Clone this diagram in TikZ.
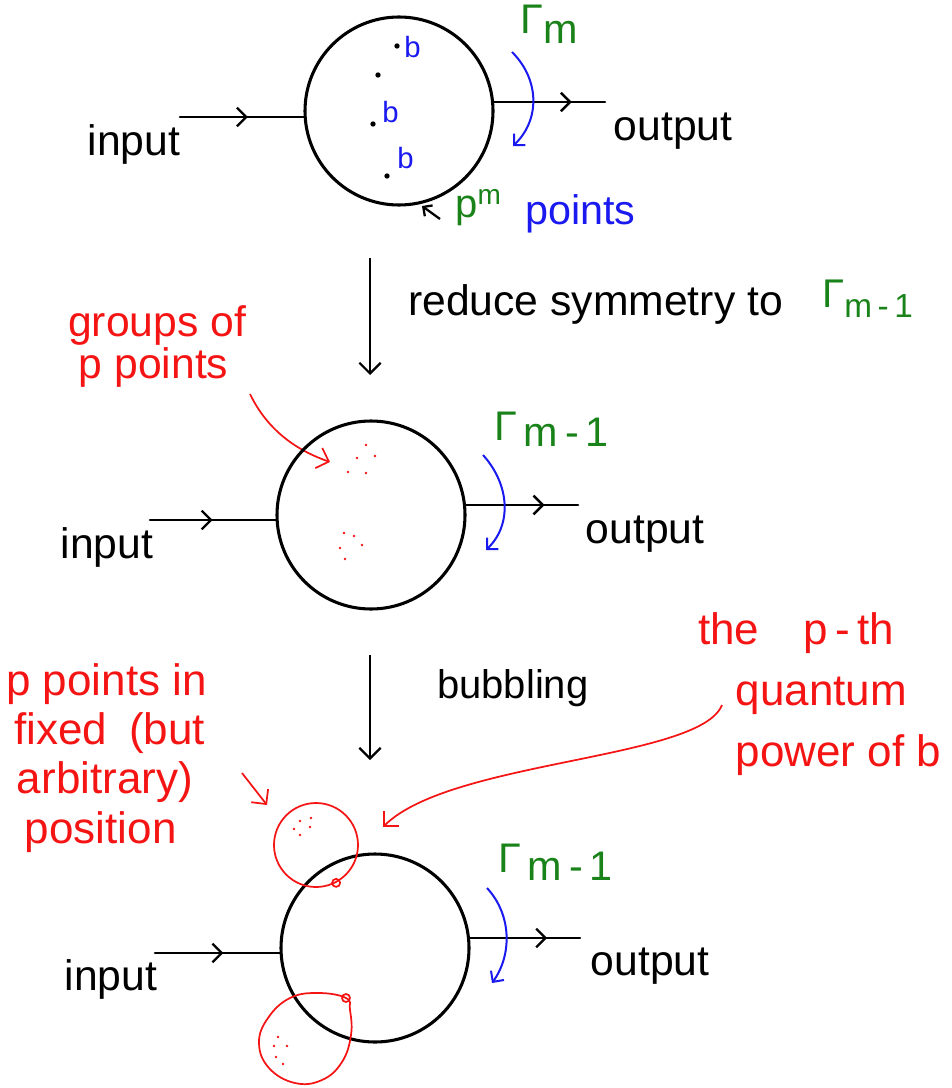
\documentclass[tikz,border=0pt]{standalone}
\usepackage{fontspec}
\setmainfont{Liberation Sans}
\usetikzlibrary{decorations.markings,arrows.meta}
\definecolor{hgreen}{RGB}{25,130,25}
\definecolor{hblue}{RGB}{25,25,240}
\definecolor{hred}{RGB}{245,20,20}
\tikzset{
  bigdisc/.style={circle,draw=black,line width=2.3pt,minimum size=141pt,inner sep=0pt},
  bubble/.style={circle,draw=hred,line width=1.3pt,inner sep=0pt},
  bubbleline/.style={draw=hred,line width=1.3pt},
  joint/.style={circle,draw=hred,line width=1.3pt,minimum size=6pt,inner sep=0pt},
  bdot/.style={circle,fill=black,minimum size=4pt,inner sep=0pt},
  rdot/.style={circle,fill=hred,minimum size=2pt,inner sep=0pt},
  barb/.tip={Straight Barb[length=7pt,width=14pt,line width=1.8pt]},
  flowline/.style={line width=1.9pt,line cap=round,postaction={decorate},
    decoration={markings,mark=at position #1 with {\arrow{barb}}}},
  rotarrow/.style={draw=hblue,line width=1.5pt,-{Straight Barb[length=6pt,width=12pt,line width=1.5pt]}},
  downarrow/.style={line width=1.7pt,-{Straight Barb[length=8pt,width=16pt,line width=1.7pt]}},
  redarrow/.style={draw=hred,line width=1.3pt,-{Straight Barb[length=8pt,width=16pt,line width=1.3pt]}},
  io/.style={font=\fontsize{32}{36}\selectfont,anchor=base,inner sep=0pt},
  gam/.style={text=hgreen,font=\fontsize{31}{34}\selectfont,anchor=base west,inner sep=0pt},
  bl/.style={text=hblue,font=\fontsize{22}{24}\selectfont,inner sep=0pt},
  redtxt/.style={text=hred,align=left,inner sep=0pt},
}
\begin{document}
\begin{tikzpicture}[x=0.75pt,y=-0.75pt]
\useasboundingbox (0,0) rectangle (951,1088);

% ---------- diagram 1 ----------
\node[bigdisc] (c1) at (399,111) {};
\coordinate (in1) at (180,117);
\coordinate (out1) at (605,102);
\draw[flowline=0.55] (in1) -- (c1.west |- in1);
\draw[flowline=0.7] (c1.east |- out1) -- (out1);
\node[io] (inlab1) at (134,155) {input};
\node[io] (outlab1) at (673,140) {output};
\node[bdot] (d1) at (397,46) {};
\node[bdot] (d2) at (378,75) {};
\node[bdot] (d3) at (373,124) {};
\node[bdot] (d4) at (387,176) {};
\node[bl,anchor=west] (b1) at (404,47) {b};
\node[bl,anchor=west] (b2) at (382,112) {b};
\node[bl,anchor=west] (b3) at (397,158) {b};
\coordinate (r1a) at (512,52);
\coordinate (r1b) at (513,146);
\draw[rotarrow] (r1a) .. controls (540,80) and (540,120) .. (r1b);
\node[gam] (g1) at (520,34) {Γ\raisebox{-7pt}{m}};
\coordinate (pa) at (440,219);
\coordinate (pb) at (422,206);
\draw[line width=1.7pt,-{Straight Barb[length=5pt,width=10pt,line width=1.7pt]}] (pa) -- (pb);
\node[text=hgreen,font=\fontsize{30}{34}\selectfont,anchor=base west,inner sep=0pt] (pm) at (455,217) {p\textsuperscript{m}};
\node[text=hblue,font=\fontsize{31}{34}\selectfont,anchor=base west,inner sep=0pt] (pts) at (525,224) {points};

% ---------- reduce ----------
\coordinate (a1) at (370,258);
\coordinate (a2) at (370,375);
\draw[downarrow] (a1) -- (a2);
\node[font=\fontsize{32}{36}\selectfont,anchor=base west,inner sep=0pt] (red) at (408,315) {reduce symmetry to};
\node[gam,font=\fontsize{30}{34}\selectfont] (gred) at (822,307) {Γ\raisebox{-8pt}{\fontsize{25}{28}\selectfont m\,-\,1}};

\node[redtxt,font=\fontsize{32}{32}\selectfont,anchor=north west] (grp) at (68,305) {groups of\\\hspace*{8pt}p points};
\coordinate (ga) at (250,394);
\coordinate (gb) at (330,462);
\draw[redarrow] (ga) .. controls (265,425) and (290,448) .. (gb);

% ---------- diagram 2 ----------
\node[bigdisc] (c2) at (371,515) {};
\coordinate (in2) at (150,520);
\coordinate (out2) at (578,505);
\draw[flowline=0.5] (in2) -- (c2.west |- in2);
\draw[flowline=0.7] (c2.east |- out2) -- (out2);
\node[io] (inlab2) at (107,558) {input};
\node[io] (outlab2) at (645,543) {output};
\coordinate (r2a) at (483,455);
\coordinate (r2b) at (486,550);
\draw[rotarrow] (r2a) .. controls (510,485) and (512,525) .. (r2b);
\node[gam] (g2) at (494,440) {Γ\raisebox{-5pt}{\,m\,-\,1}};
\foreach \p in {(366,445),(357,458),(375,456),(348,472),(366,473)}
  \node[rdot] at \p {};
\foreach \p in {(344,533),(354,536),(340,548),(362,545),(345,559)}
  \node[rdot] at \p {};

% ---------- bubbling ----------
\coordinate (a3) at (370,655);
\coordinate (a4) at (370,760);
\draw[downarrow] (a3) -- (a4);
\node[font=\fontsize{30}{34}\selectfont,anchor=base west,inner sep=0pt] (bub) at (437,698) {bubbling};

\node[redtxt,font=\fontsize{33}{37}\selectfont,anchor=north west] (fix) at (6,663) {p points in\\\hspace*{6pt}fixed\enspace(but\\\hspace*{8pt}arbitrary)\\\hspace*{14pt}position};
\coordinate (fa) at (242,773);
\coordinate (fb) at (267,805);
\draw[redarrow] (fa) -- (fb);

\node[redtxt,font=\fontsize{33}{46}\selectfont,anchor=north west] (qp) at (698,612) {the\quad p\,-\,th\\\hspace*{28pt}quantum\\\hspace*{28pt}power of b};
\coordinate (qa) at (722,705);
\coordinate (qb) at (383,827);
\draw[redarrow] (qa) .. controls (700,760) and (450,760) .. (qb);

% ---------- diagram 3 ----------
\node[bigdisc] (c3) at (375,948) {};
\coordinate (in3) at (155,953);
\coordinate (out3) at (580,938);
\draw[flowline=0.55] (in3) -- (c3.west |- in3);
\draw[flowline=0.7] (c3.east |- out3) -- (out3);
\node[io] (inlab3) at (111,990) {input};
\node[io] (outlab3) at (650,975) {output};
\coordinate (r3a) at (487,888);
\coordinate (r3b) at (492,983);
\draw[rotarrow] (r3a) .. controls (512,915) and (512,955) .. (r3b);
\node[gam] (g3) at (498,872) {Γ\raisebox{-6pt}{\,m\,-\,1}};

\node[bubble,minimum size=63pt] (bt) at (316,845) {};
\node[joint] (jt) at (bt.-62) {};
\node[joint] (jb) at (346,998) {};
\draw[bubbleline] plot[smooth cycle,tension=0.7] coordinates
  {(346,998) (318,993) (290,998) (268,1018) (259,1043) (269,1068) (295,1083) (322,1080) (342,1062) (351,1035) (350,1010)};
\foreach \p in {(300,821),(311,818),(294,829),(310,827),(300,835)}
  \node[rdot] at \p {};
\foreach \p in {(278,1037),(274,1046),(287,1046),(276,1057),(283,1064)}
  \node[rdot] at \p {};
\end{tikzpicture}
\end{document}
